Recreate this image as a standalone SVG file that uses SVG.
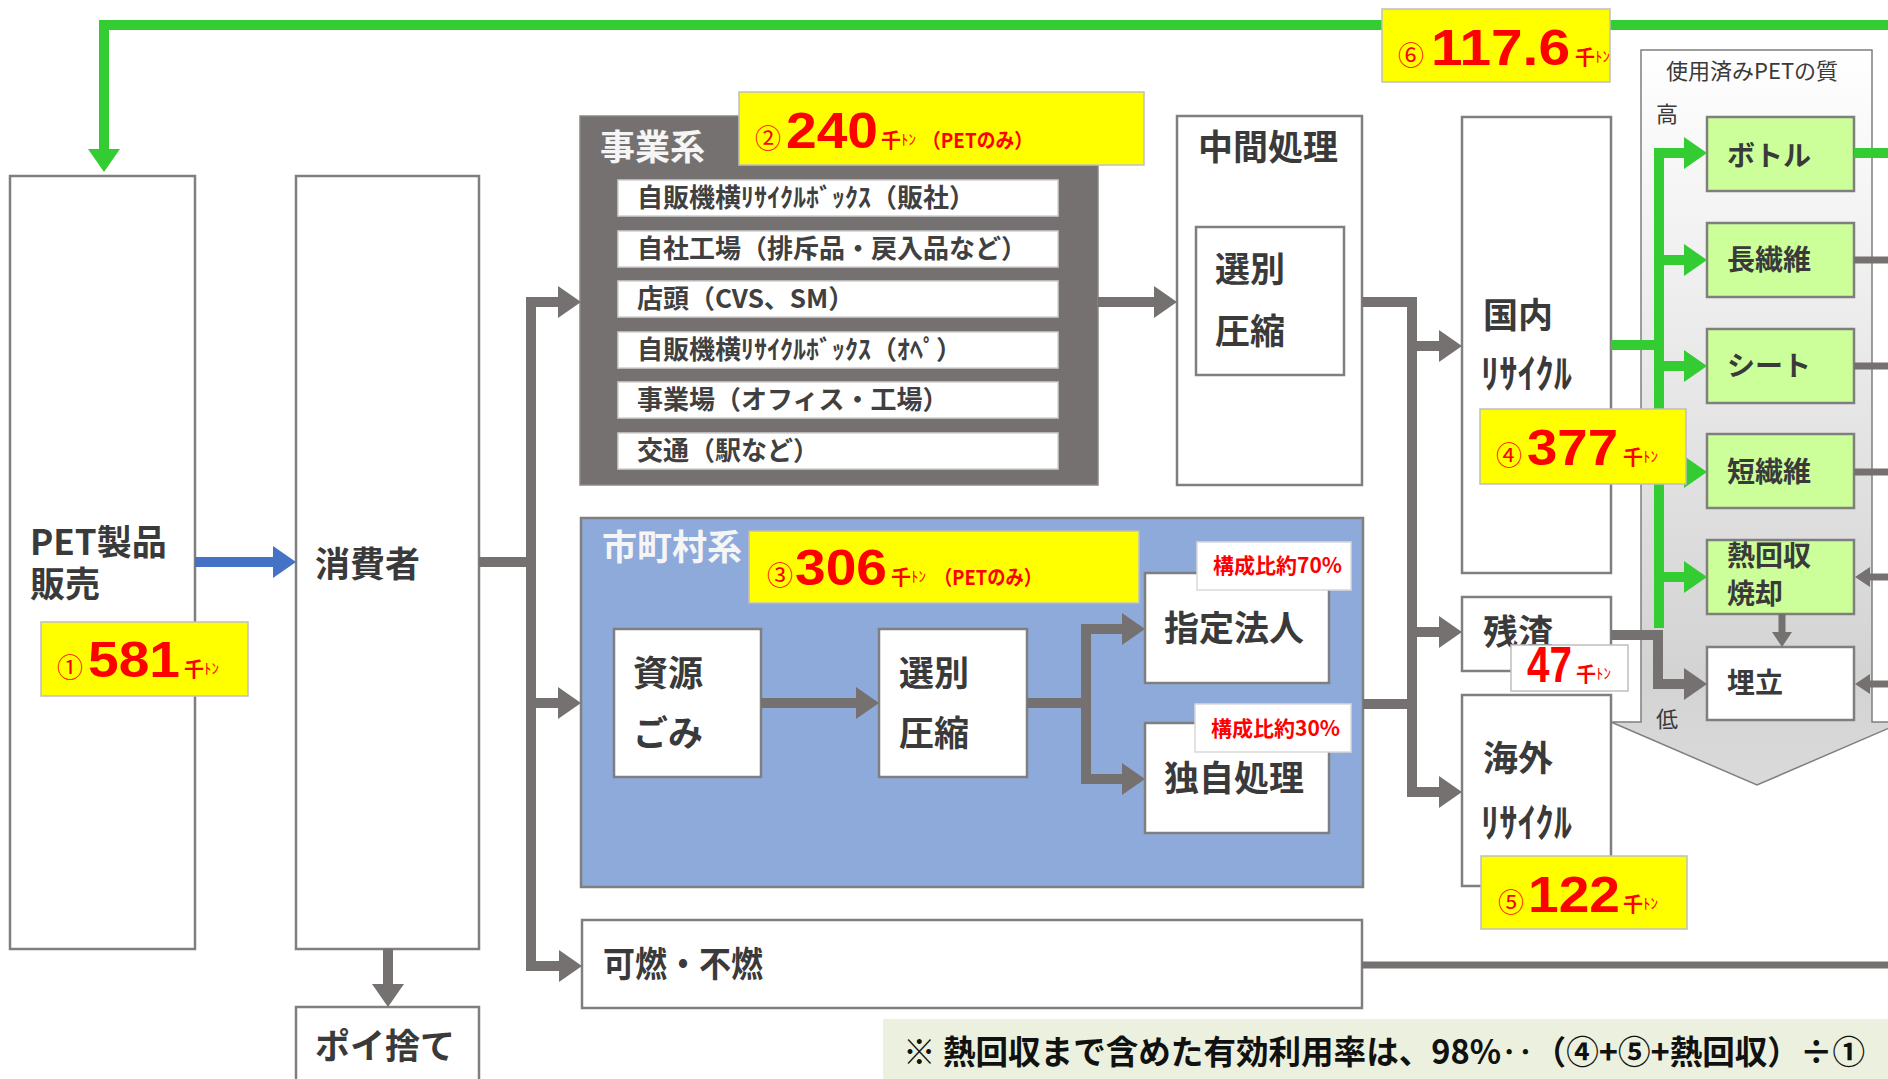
<svg xmlns="http://www.w3.org/2000/svg" width="1888" height="1079" viewBox="0 0 1888 1079">
<defs>
<style>
text{font-family:'Noto Sans CJK JP','Noto Sans',sans-serif;}
.box{fill:#ffffff;stroke:#7f7f7f;stroke-width:2.5;}
.gbox{fill:#ccff99;stroke:#7f7f7f;stroke-width:2.5;}
.ybox{fill:#ffff00;stroke:#bfbfbf;stroke-width:1.5;}
.row{fill:#ffffff;stroke:#d0d0d0;stroke-width:1.5;}
.lbl{font-size:35px;font-weight:700;fill:#3a3a3a;}
.rowt{font-size:26px;font-weight:700;fill:#404040;}
.gl{font-size:28px;font-weight:700;fill:#3a3a3a;}
.wt{font-size:35px;font-weight:700;fill:#f5f5f5;}
.kana{font-size:40px;font-weight:700;fill:#3a3a3a;}
.circ{font-size:26px;fill:#ff0000;}
.big{font-family:'Liberation Sans',Arial,sans-serif;font-size:50px;font-weight:700;fill:#ff0000;}
.sen{font-size:20px;font-weight:700;fill:#ff0000;}
.ton{font-size:15px;fill:#ff0000;}
.pet{font-size:20px;font-weight:700;fill:#ff0000;}
.ratio{font-size:21px;font-weight:700;fill:#ff0000;}
.small{font-size:22px;fill:#3a3a3a;}
.cg{fill:none;stroke:#767171;stroke-width:10;stroke-linejoin:miter;}
.cgt{fill:none;stroke:#767171;stroke-width:7;}
.cgr{fill:none;stroke:#33cc33;stroke-width:10;stroke-linejoin:miter;}
.cb{fill:none;stroke:#4472c4;stroke-width:10;}
</style>
<marker id="ahg" markerUnits="userSpaceOnUse" markerWidth="24" markerHeight="34" refX="1" refY="17" orient="auto"><path d="M0,1 L23,17 L0,33 Z" fill="#767171"/></marker>
<marker id="ahgr" markerUnits="userSpaceOnUse" markerWidth="24" markerHeight="34" refX="1" refY="17" orient="auto"><path d="M0,1 L23,17 L0,33 Z" fill="#33cc33"/></marker>
<marker id="ahb" markerUnits="userSpaceOnUse" markerWidth="24" markerHeight="34" refX="1" refY="17" orient="auto"><path d="M0,1 L23,17 L0,33 Z" fill="#4472c4"/></marker>
<marker id="ahs" markerUnits="userSpaceOnUse" markerWidth="16" markerHeight="22" refX="1" refY="11" orient="auto"><path d="M0,1 L15,11 L0,21 Z" fill="#767171"/></marker>
<linearGradient id="pg" x1="0" y1="0" x2="0" y2="1">
<stop offset="0" stop-color="#ffffff"/>
<stop offset="0.85" stop-color="#d3d3d3"/>
<stop offset="1" stop-color="#dadada"/>
</linearGradient>
</defs>

<rect x="0" y="0" width="1888" height="1079" fill="#ffffff"/>

<g id="quality-panel">
<path d="M1641,50 H1872 V722 H1903 L1757,785 L1611,722 H1641 Z" fill="url(#pg)" stroke="#7f7f7f" stroke-width="1.5"/>
<text class="small" x="1666" y="79">使用済みPETの質</text>
<text class="small" x="1656" y="122">高</text>
<text class="small" x="1656" y="727">低</text>
</g>

<g id="pet-sales">
<rect class="box" x="10" y="176" width="185" height="773"/>
<text class="lbl" x="30" y="555">PET製品</text>
<text class="lbl" x="30" y="597">販売</text>
</g>

<g id="consumer">
<rect class="box" x="296" y="176" width="183" height="773"/>
<text class="lbl" x="315" y="577">消費者</text>
</g>

<g id="littering">
<rect class="box" x="296" y="1007" width="183" height="90"/>
<text class="lbl" x="315" y="1059">ポイ捨て</text>
</g>

<g id="business">
<rect x="580" y="116" width="518" height="369" fill="#767171" stroke="#8a8686" stroke-width="1.5"/>
<text class="wt" x="600" y="160">事業系</text>
<rect class="row" x="618" y="180" width="440" height="36"/>
<text class="rowt" x="637" y="207">自販機横ﾘｻｲｸﾙﾎﾞｯｸｽ（販社）</text>
<rect class="row" x="618" y="231" width="440" height="36"/>
<text class="rowt" x="637" y="258">自社工場（排斥品・戻入品など）</text>
<rect class="row" x="618" y="281" width="440" height="36"/>
<text class="rowt" x="637" y="308">店頭（CVS、SM）</text>
<rect class="row" x="618" y="332" width="440" height="36"/>
<text class="rowt" x="637" y="359">自販機横ﾘｻｲｸﾙﾎﾞｯｸｽ（ｵﾍﾟ）</text>
<rect class="row" x="618" y="382" width="440" height="36"/>
<text class="rowt" x="637" y="409">事業場（オフィス・工場）</text>
<rect class="row" x="618" y="433" width="440" height="36"/>
<text class="rowt" x="637" y="460">交通（駅など）</text>
</g>

<g id="municipal">
<rect x="581" y="518" width="782" height="369" fill="#8eaadb" stroke="#7f7f7f" stroke-width="2.5"/>
<text class="wt" x="602" y="560">市町村系</text>
</g>

<g id="resource-waste">
<rect class="box" x="614" y="629" width="147" height="148"/>
<text class="lbl" x="633" y="686">資源</text>
<text class="lbl" x="633" y="746">ごみ</text>
</g>

<g id="municipal-sorting">
<rect class="box" x="879" y="629" width="148" height="148"/>
<text class="lbl" x="899" y="686">選別</text>
<text class="lbl" x="899" y="746">圧縮</text>
</g>

<g id="designated-corp">
<rect class="box" x="1145" y="573" width="184" height="110"/>
<text class="lbl" x="1164" y="641">指定法人</text>
<rect x="1197" y="542" width="154" height="48" fill="#ffffff" stroke="#d9d9d9" stroke-width="1.5"/>
<text class="ratio" x="1213" y="573">構成比約70%</text>
</g>

<g id="own-processing">
<rect class="box" x="1145" y="723" width="184" height="110"/>
<text class="lbl" x="1164" y="791">独自処理</text>
<rect x="1195" y="704" width="156" height="48" fill="#ffffff" stroke="#d9d9d9" stroke-width="1.5"/>
<text class="ratio" x="1211" y="736">構成比約30%</text>
</g>

<g id="combustible">
<rect class="box" x="582" y="920" width="780" height="88"/>
<text class="lbl" x="603" y="977" textLength="160" lengthAdjust="spacingAndGlyphs">可燃・不燃</text>
</g>

<g id="intermediate">
<rect class="box" x="1177" y="116" width="185" height="369"/>
<text class="lbl" x="1198" y="160">中間処理</text>
<rect class="box" x="1196" y="227" width="148" height="148"/>
<text class="lbl" x="1215" y="282">選別</text>
<text class="lbl" x="1215" y="344">圧縮</text>
</g>

<g id="domestic">
<rect class="box" x="1462" y="117" width="149" height="456"/>
<text class="lbl" x="1483" y="328">国内</text>
<text class="kana" x="1481" y="388" textLength="91" lengthAdjust="spacingAndGlyphs">ﾘｻｲｸﾙ</text>
</g>

<g id="residue">
<rect class="box" x="1462" y="597" width="149" height="74"/>
<text class="lbl" x="1483" y="645">残渣</text>
</g>

<g id="overseas">
<rect class="box" x="1462" y="695" width="149" height="191"/>
<text class="lbl" x="1483" y="771">海外</text>
<text class="kana" x="1481" y="837" textLength="91" lengthAdjust="spacingAndGlyphs">ﾘｻｲｸﾙ</text>
</g>

<g id="bottle"><rect class="gbox" x="1707" y="117" width="147" height="74"/><text class="gl" x="1727" y="166">ボトル</text></g>
<g id="long-fiber"><rect class="gbox" x="1707" y="223" width="147" height="74"/><text class="gl" x="1727" y="270">長繊維</text></g>
<g id="sheet"><rect class="gbox" x="1707" y="329" width="147" height="74"/><text class="gl" x="1727" y="376">シート</text></g>
<g id="short-fiber"><rect class="gbox" x="1707" y="434" width="147" height="74"/><text class="gl" x="1727" y="482">短繊維</text></g>
<g id="heat-recovery"><rect class="gbox" x="1707" y="540" width="147" height="74"/><text class="gl" x="1727" y="566">熱回収</text><text class="gl" x="1727" y="604">焼却</text></g>
<g id="landfill"><rect class="box" x="1707" y="647" width="147" height="73"/><text class="gl" x="1727" y="693">埋立</text></g>

<g id="connectors">
<path class="cgr" d="M1888,25 H104 V150" marker-end="url(#ahgr)"/>
<path class="cb" d="M195,562 H274" marker-end="url(#ahb)"/>
<path class="cg" d="M479,562 H531 V302 H559" marker-end="url(#ahg)"/>
<path class="cg" d="M531,562 V966 H560" marker-end="url(#ahg)"/>
<path class="cg" d="M531,703 H559" marker-end="url(#ahg)"/>
<path class="cg" d="M388,949 V985" marker-end="url(#ahg)"/>
<path class="cg" d="M1098,302 H1155" marker-end="url(#ahg)"/>
<path class="cg" d="M761,703 H857" marker-end="url(#ahg)"/>
<path class="cg" d="M1027,703 H1086 V629 H1123" marker-end="url(#ahg)"/>
<path class="cg" d="M1086,700 V779 H1123" marker-end="url(#ahg)"/>
<path class="cg" d="M1362,302 H1412 V792 H1440" marker-end="url(#ahg)"/>
<path class="cg" d="M1412,346 H1440" marker-end="url(#ahg)"/>
<path class="cg" d="M1412,632 H1440" marker-end="url(#ahg)"/>
<path class="cg" d="M1363,704 H1412"/>
<path class="cgr" d="M1611,345 H1659"/>
<path class="cgr" d="M1659,628 V153 H1685" marker-end="url(#ahgr)"/>
<path class="cgr" d="M1659,260 H1685" marker-end="url(#ahgr)"/>
<path class="cgr" d="M1659,366 H1685" marker-end="url(#ahgr)"/>
<path class="cgr" d="M1659,472 H1685" marker-end="url(#ahgr)"/>
<path class="cgr" d="M1659,577 H1685" marker-end="url(#ahgr)"/>
<path class="cg" d="M1611,635 H1658 V684 H1685" marker-end="url(#ahg)"/>
<path class="cgr" d="M1854,153 H1888"/>
<path class="cgt" d="M1854,260 H1888"/>
<path class="cgt" d="M1854,366 H1888"/>
<path class="cgt" d="M1854,472 H1888"/>
<path class="cgt" d="M1888,577 H1869" marker-end="url(#ahs)"/>
<path class="cgt" d="M1888,684 H1869" marker-end="url(#ahs)"/>
<path class="cgt" d="M1782,614 V633" marker-end="url(#ahs)"/>
<path class="cgt" d="M1362,965 H1888"/>
</g>

<g id="label-1">
<rect class="ybox" x="41" y="622" width="207" height="74"/>
<text y="677"><tspan class="circ" x="57">①</tspan><tspan class="big" x="88" textLength="92" lengthAdjust="spacingAndGlyphs">581</tspan><tspan class="sen" x="184">千</tspan><tspan class="ton" dy="-3">ﾄﾝ</tspan></text>
</g>
<g id="label-2">
<rect class="ybox" x="739" y="92" width="405" height="73"/>
<text y="148"><tspan class="circ" x="755">②</tspan><tspan class="big" x="786" textLength="92" lengthAdjust="spacingAndGlyphs">240</tspan><tspan class="sen" x="881">千</tspan><tspan class="ton" dy="-3">ﾄﾝ</tspan><tspan class="pet" x="922" dy="3" textLength="111" lengthAdjust="spacingAndGlyphs">（PETのみ）</tspan></text>
</g>
<g id="label-3">
<rect class="ybox" x="749" y="531" width="390" height="72"/>
<text y="585"><tspan class="circ" x="767">③</tspan><tspan class="big" x="795" textLength="92" lengthAdjust="spacingAndGlyphs">306</tspan><tspan class="sen" x="891">千</tspan><tspan class="ton" dy="-3">ﾄﾝ</tspan><tspan class="pet" x="934" dy="3" textLength="108" lengthAdjust="spacingAndGlyphs">（PETのみ）</tspan></text>
</g>
<g id="label-4">
<rect class="ybox" x="1480" y="409" width="206" height="75"/>
<text y="465"><tspan class="circ" x="1496">④</tspan><tspan class="big" x="1527" textLength="91" lengthAdjust="spacingAndGlyphs">377</tspan><tspan class="sen" x="1623">千</tspan><tspan class="ton" dy="-3">ﾄﾝ</tspan></text>
</g>
<g id="label-5">
<rect class="ybox" x="1481" y="856" width="206" height="73"/>
<text y="912"><tspan class="circ" x="1498">⑤</tspan><tspan class="big" x="1528" textLength="92" lengthAdjust="spacingAndGlyphs">122</tspan><tspan class="sen" x="1623">千</tspan><tspan class="ton" dy="-3">ﾄﾝ</tspan></text>
</g>
<g id="label-6">
<rect class="ybox" x="1382" y="9" width="228" height="73"/>
<text y="65"><tspan class="circ" x="1398">⑥</tspan><tspan class="big" x="1431" textLength="139" lengthAdjust="spacingAndGlyphs" font-size="52">117.6</tspan><tspan class="sen" x="1575">千</tspan><tspan class="ton" dy="-3">ﾄﾝ</tspan></text>
</g>
<g id="label-47">
<rect x="1511" y="645" width="117" height="46" fill="#ffffff" stroke="#bfbfbf" stroke-width="1.5"/>
<text y="682"><tspan class="big" x="1527" font-size="40" textLength="45" lengthAdjust="spacingAndGlyphs">47</tspan><tspan class="sen" x="1576">千</tspan><tspan class="ton" dy="-3">ﾄﾝ</tspan></text>
</g>

<g id="note">
<rect x="883" y="1019" width="1010" height="65" fill="#ebf1de"/>
<text x="903" y="1064" font-size="33" font-weight="700" fill="#111111" textLength="962" lengthAdjust="spacingAndGlyphs">※ 熱回収まで含めた有効利用率は、98%‥（④+⑤+熱回収）÷①</text>
</g>
</svg>
